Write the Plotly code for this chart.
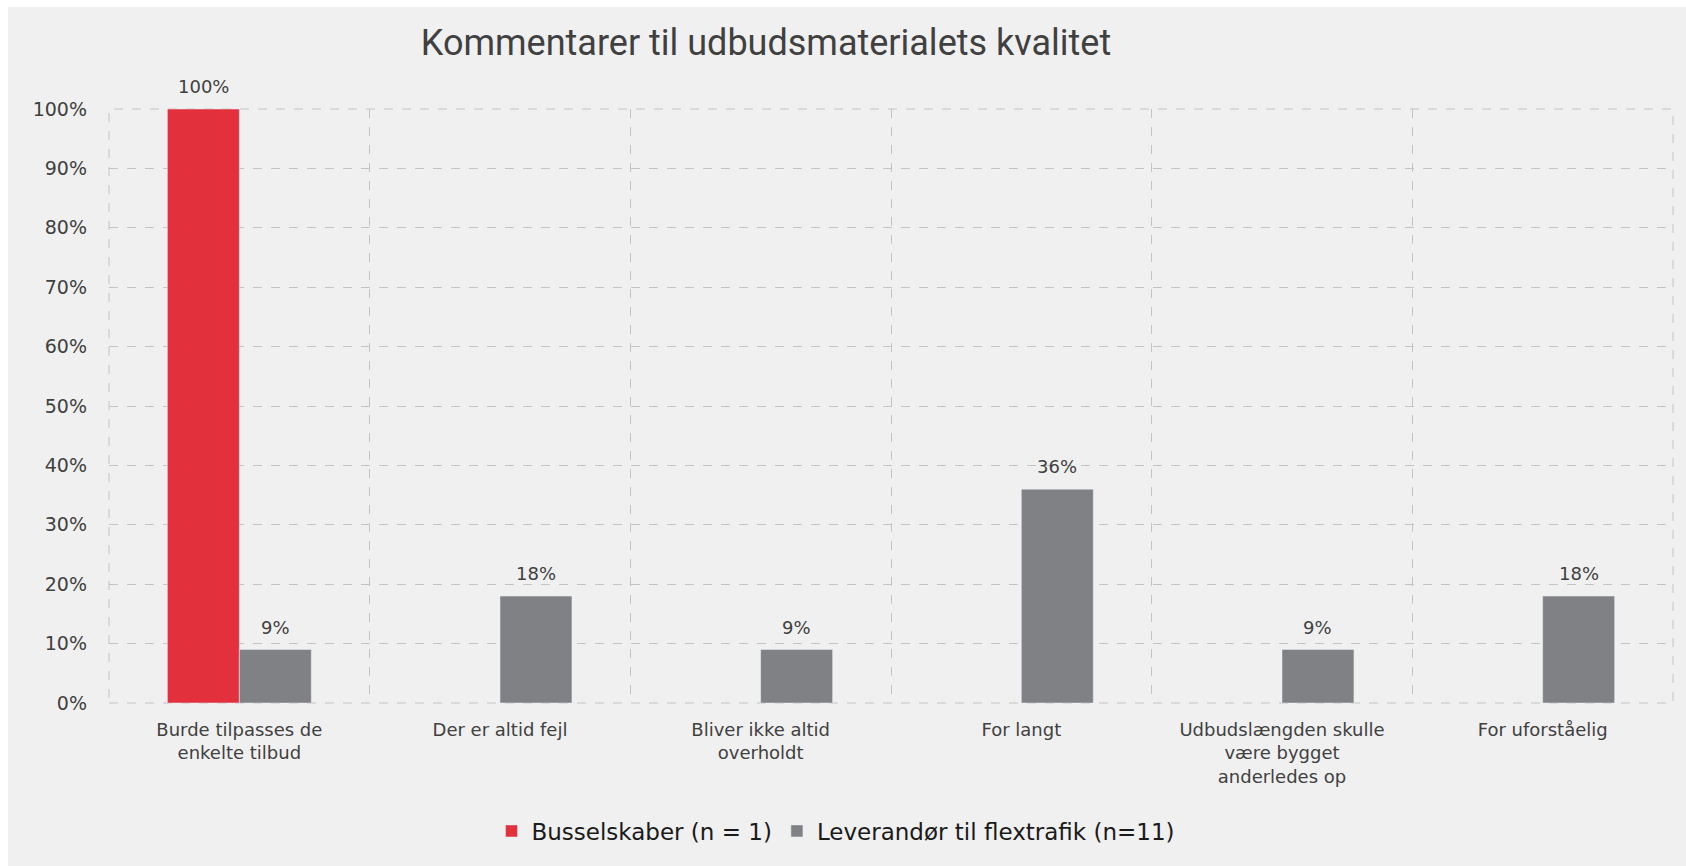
import plotly.graph_objects as go

categories = [
    "Burde tilpasses de<br>enkelte tilbud",
    "Der er altid fejl",
    "Bliver ikke altid<br>overholdt",
    "For langt",
    "Udbudslængden skulle<br>være bygget<br>anderledes op",
    "For uforståelig",
]
busselskaber = [100, None, None, None, None, None]
leverandoer = [9, 18, 9, 36, 9, 18]
y_ticks = list(range(0, 101, 10))

red = "#E3303D"
grey = "#808184"
txt = "#404040"
bg = "#F0F0F0"
grid = "#C4C4C4"
font = "DejaVu Sans, Verdana, sans-serif"

W, H = 1686, 866
L, R, T, B = 109, 13, 109, 163
bargap = 0.448
plot_w = W - L - R
plot_h = H - T - B
# half a bar, in px, to put the value labels over each bar of the pair
half_bar = plot_w / len(categories) * (1 - bargap) / 4

fig = go.Figure()
fig.add_trace(go.Bar(x=categories, y=busselskaber, name="Busselskaber (n = 1)",
                     marker_color=red))
fig.add_trace(go.Bar(x=categories, y=leverandoer, name="Leverandør til flextrafik (n=11)",
                     marker_color=grey))

for series, shift in [(busselskaber, -half_bar), (leverandoer, half_bar)]:
    for cat, v in zip(categories, series):
        if v is None:
            continue
        fig.add_annotation(x=cat, y=v, text=f"{v}%", showarrow=False,
                           xshift=shift, yshift=10, yanchor="bottom",
                           font=dict(size=18, color=txt, family=font))

# grey card behind everything (white strip only on the top and left)
fig.add_shape(type="rect", xref="paper", yref="paper", layer="below",
              x0=(8 - L) / plot_w, x1=(W - L + 2) / plot_w,
              y0=-(B + 2) / plot_h, y1=(H - B - 7) / plot_h,
              fillcolor=bg, line_width=0)
# dashed frame round the plot area
fig.add_shape(type="rect", xref="paper", yref="paper", layer="below",
              x0=0, x1=1, y0=0, y1=1,
              line=dict(color=grid, width=1, dash="dash"))

fig.update_layout(
    width=W, height=H,
    paper_bgcolor="white", plot_bgcolor=bg,
    margin=dict(l=L, r=R, t=T, b=B, autoexpand=False),
    barmode="group", bargap=bargap, bargroupgap=0,
    font=dict(family=font, size=18, color=txt),
    title=dict(text="Kommentarer til udbudsmaterialets kvalitet",
               x=766 / W, xanchor="center", xref="container",
               y=1 - 42 / H, yanchor="middle", yref="container",
               font=dict(family="Roboto, sans-serif", size=36, color="#404040")),
    legend=dict(orientation="h", x=(836 - L) / plot_w, xanchor="center",
                y=-(831 - (H - B)) / plot_h, yanchor="middle",
                font=dict(size=23, color="#1A1A1A", family=font),
                itemwidth=30, bgcolor="rgba(0,0,0,0)"),
    showlegend=True,
)
fig.update_yaxes(range=[0, 100], tickvals=y_ticks,
                 ticktext=[f"{v}%" for v in y_ticks],
                 showgrid=True, gridcolor=grid, griddash="dash", gridwidth=1,
                 zeroline=False, showline=False, ticks="", ticklabelstandoff=21,
                 automargin=False, tickfont=dict(size=19, color=txt))
fig.update_xaxes(type="category", tickson="boundaries", showgrid=True,
                 gridcolor=grid, griddash="dash", gridwidth=1,
                 showline=False, ticks="", ticklabelstandoff=14,
                 automargin=False, tickfont=dict(size=18, color=txt))

fig.write_html("out.html", config={"displayModeBar": False},
               post_script="document.body.style.margin='0';")
